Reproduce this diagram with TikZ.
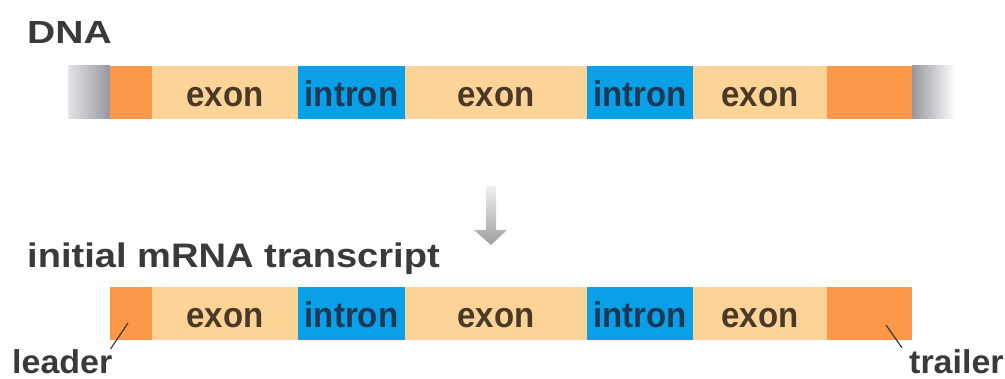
\documentclass[tikz,border=0pt]{standalone}
\usepackage{fontspec}
\setmainfont{Liberation Sans}
\usepackage{graphicx}
\usetikzlibrary{positioning}
\definecolor{exonfill}{RGB}{253,212,152}
\definecolor{intronfill}{RGB}{10,160,232}
\definecolor{endfill}{RGB}{253,152,72}
\definecolor{exontext}{RGB}{74,56,40}
\definecolor{introntext}{RGB}{28,56,84}
\definecolor{titletext}{RGB}{58,58,60}
\definecolor{capgray}{RGB}{150,150,160}
\newcommand{\wide}[2]{\scalebox{#1}[1]{#2}}
\newcommand{\tall}[1]{\scalebox{1}[1.08]{#1}}

\begin{document}
\begin{tikzpicture}[x=1pt,y=-1pt,
    seg/.style={anchor=west, minimum height=53pt, inner sep=0pt, outer sep=0pt,
                text height=41pt, text depth=12pt,
                font=\fontsize{33}{33}\selectfont\bfseries},
    exonbox/.style={seg, fill=exonfill, text=exontext},
    intronbox/.style={seg, fill=intronfill, text=introntext},
    endbox/.style={seg, fill=endfill},
    title/.style={anchor=base west, inner sep=0pt, text=titletext},
    tag/.style={anchor=base west, inner sep=0pt, text=titletext,
                font=\fontsize{33}{33}\selectfont\bfseries}]
  \useasboundingbox (0,0) rectangle (1005,379);
  % ---- DNA ----
  \node[title, font=\fontsize{32}{32}\selectfont\bfseries] (dnatitle) at (27,44) {\wide{1.22}{DNA}};
  \shade[left color=capgray!25, right color=capgray] (68,66) rectangle (110,119);
  \shade[left color=capgray, right color=white] (912,66) rectangle (955,119);
  \node[endbox, minimum width=42pt]    (dlead)  at (110,92.5) {};
  \node[exonbox, minimum width=146pt]  (dex1)   at (152,92.5) {\tall{exon}};
  \node[intronbox, minimum width=107pt] (din1)  at (298,92.5) {\tall{intron}};
  \node[exonbox, minimum width=182pt]  (dex2)   at (405,92.5) {\tall{exon}};
  \node[intronbox, minimum width=106pt] (din2)  at (587,92.5) {\tall{intron}};
  \node[exonbox, minimum width=134pt]  (dex3)   at (693,92.5) {\tall{exon}};
  \node[endbox, minimum width=85pt]    (dtrail) at (827,92.5) {};
  % ---- transcription arrow ----
  \shade[top color=gray!12, bottom color=gray!75]
    (486,186) -- (496,186) -- (496,230) -- (507,230) -- (491,245)
    -- (474,230) -- (486,230) -- cycle;
  % ---- mRNA ----
  \node[title, font=\fontsize{34}{34}\selectfont\bfseries] (rnatitle) at (27,268) {\wide{1.12}{initial mRNA transcript}};
  \node[endbox, minimum width=42pt]    (rlead)  at (110,313.5) {};
  \node[exonbox, minimum width=146pt]  (rex1)   at (152,313.5) {\tall{exon}};
  \node[intronbox, minimum width=107pt] (rin1)  at (298,313.5) {\tall{intron}};
  \node[exonbox, minimum width=182pt]  (rex2)   at (405,313.5) {\tall{exon}};
  \node[intronbox, minimum width=106pt] (rin2)  at (587,313.5) {\tall{intron}};
  \node[exonbox, minimum width=134pt]  (rex3)   at (693,313.5) {\tall{exon}};
  \node[endbox, minimum width=85pt]    (rtrail) at (827,313.5) {};
  % ---- leader / trailer labels ----
  \node[tag] (leader)  at (12,374) {\wide{1.03}{leader}};
  \node[tag] (trailer) at (909,374) {\wide{1.03}{trailer}};
  \coordinate (leadtip)  at (128,323);
  \coordinate (trailtip) at (886,325);
  \draw[line width=1.2pt, titletext] (leader.north east) ++(-2,-1) -- (leadtip);
  \draw[line width=1.2pt, titletext] (trailer.north west) ++(-7,-2) -- (trailtip);
\end{tikzpicture}
\end{document}
